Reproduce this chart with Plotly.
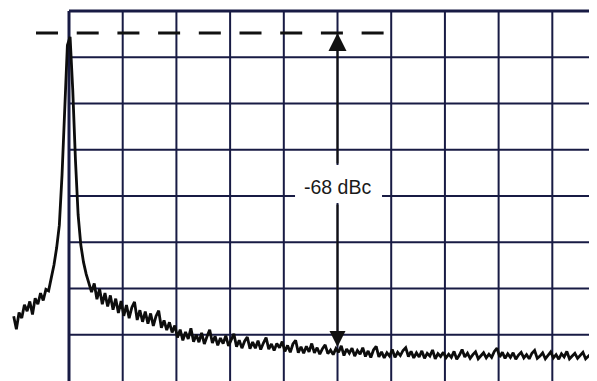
import numpy as np
import plotly.graph_objects as go

# ---- data (frequency in screen divisions, amplitude in dB) ----
freq_start = -1.03
freq_step = 0.05
amplitude_db = [
    -66.0, -68.8, -65.2, -66.4, -63.5, -64.9, -62.8, -65.6, -62.1, -63.4,
    -61.0, -62.6, -60.2, -60.5, -57.7, -54.9, -51.2, -46.3, -35.5, -20.3,
    -7.4, -5.6, -17.1, -32.2, -44.1, -50.6, -54.3, -56.9, -58.6,
    -60.8, -58.9, -62.3, -60.1, -63.4, -61.0, -63.9, -61.5, -64.6, -62.2,
    -65.3, -62.7, -65.9, -63.6, -66.4, -64.1, -62.9, -66.8, -64.7, -67.2,
    -65.0, -67.6, -65.4, -68.1, -66.0, -64.8, -68.5, -66.9, -69.0, -67.3,
    -69.5, -68.0, -70.6, -68.9, -71.2, -69.4, -70.9, -68.6, -71.5, -70.0,
    -71.6, -69.6, -72.0, -70.4, -68.9, -71.8, -70.3, -72.3, -70.7, -71.9,
    -70.2, -72.4, -71.0, -69.8, -72.6, -71.2, -72.9, -71.4, -70.5, -73.0,
    -71.6, -72.9, -71.3, -73.2, -71.8, -70.6, -73.1, -72.0, -73.4, -71.9,
    -72.8, -71.5, -73.6, -72.3, -73.8, -72.0, -71.2, -73.9, -72.6, -74.0,
    -72.5, -73.7, -71.9, -73.9, -72.8, -74.2, -73.0, -72.2, -74.1, -73.3,
    -74.3, -73.0, -73.8, -72.4, -74.5, -73.1, -74.0, -72.9, -74.6, -73.4,
    -74.2, -72.8, -74.7, -73.5, -74.9, -73.3, -72.5, -74.8, -73.7, -75.0,
    -73.9, -74.6, -73.2, -74.9, -73.8, -74.5, -73.4, -72.8, -74.7, -73.6,
    -75.0, -73.9, -74.8, -73.5, -75.1, -74.0, -74.6, -73.3, -75.2, -74.1,
    -74.7, -73.8, -75.0, -74.2, -74.9, -73.6, -75.3, -74.4, -73.2, -74.8,
    -74.0, -75.1, -74.3, -73.7, -75.2, -74.5, -73.9, -75.0, -74.2, -74.9,
    -73.6, -72.9, -74.8, -73.8, -75.1, -74.1, -74.9, -73.9, -75.3, -74.4,
    -73.8, -75.0, -74.3, -75.2, -74.0, -73.4, -75.1, -74.6, -73.9, -75.2,
    -74.5, -73.7, -75.0, -74.3, -75.3, -74.1, -74.8, -73.6, -75.2, -74.5,
    -74.0, -75.1, -74.4, -73.8, -75.2, -74.6, -74.1, -75.0, -74.5,
]
grid_x = [0, 1, 2, 3, 4, 5, 6, 7, 8, 9, 10]
grid_y = [0, -10, -20, -30, -40, -50, -60, -70]
carrier_level_db = -4.76
floor_level_db = -72.65
marker_freq = 5.0
label_text = "-68 dBc"

freqs = freq_start + freq_step * np.arange(len(amplitude_db))

GRID = "#181b44"
fig = go.Figure()
fig.add_trace(go.Scatter(x=freqs, y=amplitude_db, mode="lines",
                         line=dict(color="#0d0d0d", width=2.8), hoverinfo="skip",
                         showlegend=False))

shapes = []
for gx in grid_x:
    shapes.append(dict(type="line", xref="x", yref="y", x0=gx, x1=gx, y0=0, y1=-82,
                       line=dict(color=GRID, width=3 if gx == 0 else 2), layer="below"))
for gy in grid_y:
    shapes.append(dict(type="line", xref="x", yref="y", x0=0, x1=10.5, y0=gy, y1=gy,
                       line=dict(color=GRID, width=3 if gy == 0 else 2), layer="below"))
# dashed carrier reference line
shapes.append(dict(type="line", xref="x", yref="y", x0=-0.6145, x1=5.885,
                   y0=carrier_level_db, y1=carrier_level_db,
                   line=dict(color="#111111", width=3, dash="22px,18.7px"), layer="above"))
# white gap behind the label
shapes.append(dict(type="rect", xref="x", yref="y", x0=4.209, x1=5.829, y0=-41.5, y1=-33.3,
                   fillcolor="white", line=dict(width=0), layer="above"))

annotations = [
    dict(x=marker_freq, y=carrier_level_db, ax=marker_freq, ay=-33.3, xref="x", yref="y",
         axref="x", ayref="y", text="", showarrow=True, arrowhead=2, arrowsize=1.8,
         arrowwidth=2, arrowcolor="#111111", standoff=0),
    dict(x=marker_freq, y=floor_level_db, ax=marker_freq, ay=-41.5, xref="x", yref="y",
         axref="x", ayref="y", text="", showarrow=True, arrowhead=2, arrowsize=1.6,
         arrowwidth=2, arrowcolor="#111111", standoff=0),
    dict(x=marker_freq, y=-38.0, xref="x", yref="y", text=label_text, showarrow=False,
         font=dict(family="Liberation Sans, Arial, sans-serif", size=19.5, color="#1a1a1a")),
]

# the page body adds an 8px offset; ranges are set so the grid lands where the reference has it
fig.update_layout(
    width=597, height=381, autosize=False,
    margin=dict(l=0, r=0, t=0, b=0, pad=0),
    paper_bgcolor="white", plot_bgcolor="white",
    xaxis=dict(range=[-1.136, 9.981], visible=False, fixedrange=True),
    yaxis=dict(range=[-81.73, 0.649], visible=False, fixedrange=True),
    shapes=shapes, annotations=annotations, showlegend=False,
)
fig.write_html("out.html")
